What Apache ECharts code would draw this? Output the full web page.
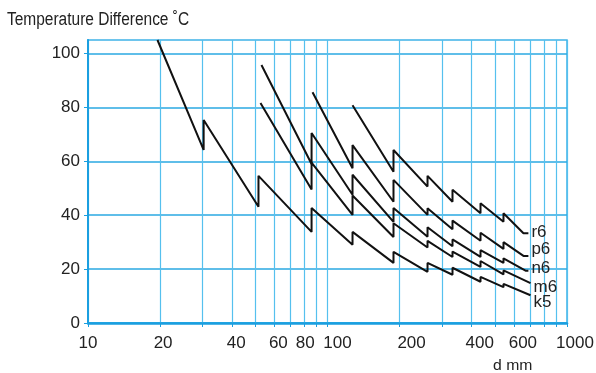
<!DOCTYPE html>
<html><head><meta charset="utf-8">
<script src="https://cdn.jsdelivr.net/npm/echarts@6/dist/echarts.min.js"></script>
<style>html,body{margin:0;padding:0;background:#fff}#c{width:596px;height:373px}</style>
</head><body><div id="c"></div>
<script>
// ---- data ----
const xGridValues = [10,20,30,40,50,60,70,80,90,100,200,300,400,500,600,700,800,900,1000];
const xLabelValues = [10,20,40,60,80,100,200,400,600,1000];
const yLabelValues = [0,20,40,60,80,100];
const gradeNames = ['k5','m6','n6','p6','r6'];

const k5 = [[19.5,105],[30.4,64.2],[30.4,75.3],[51.5,43.1],[51.5,54.6],[85.8,33.8],[85.8,42.7],[127.2,29.0],[127.2,33.8],[188.6,22.3],[188.6,26.4],[261.6,19.0],[261.6,22.3],[332.6,17.9],[332.6,20.5],[435.4,15.3],[435.4,17.1],[543,13.3],[543,14.5],[704,10.3]];
const m6 = [[52.5,81.6],[85.8,49.5],[85.8,59.5],[127.2,40.1],[127.2,47.3],[188.6,31.9],[188.6,37.0],[261.6,28.0],[261.6,30.5],[332.6,24.5],[332.6,26.5],[435.4,20.8],[435.4,23.0],[543,18.0],[543,19.5],[704,14.8]];
const n6 = [[53,95.7],[85.8,59.0],[85.8,70.5],[127.2,47.6],[127.2,55.0],[188.6,37.5],[188.6,42.7],[261.6,32.0],[261.6,35.5],[332.6,28.5],[332.6,31.0],[435.4,24.5],[435.4,27.0],[543,22.3],[543,24.0],[671,19.4],[690,19.4]];
const p6 = [[86.6,85.6],[127.2,57.4],[127.2,66.0],[188.6,45.0],[188.6,53.1],[261.6,40.1],[261.6,42.6],[332.6,34.8],[332.6,38.0],[435.4,30.5],[435.4,33.5],[543,27.5],[543,30.0],[658,24.9],[690,24.9]];
const r6 = [[127.2,80.8],[188.6,56.1],[188.6,64.2],[261.6,50.6],[261.6,54.6],[332.6,45.0],[332.6,49.4],[435.4,40.7],[435.4,44.4],[543,37.6],[543,40.7],[658,33.3],[690,33.3]];
const seriesData = [k5, m6, n6, p6, r6];
const yTitle = 'Temperature Difference \u02DAC';
const xTitle = 'd mm';

// ---- styles ----
const labelOffsets = {k5:[0,7], m6:[0,4], n6:[0,-2], p6:[0,-7], r6:[0,-1]};
const xLabelNudge = {10:0,20:3,40:4,60:4,80:1,100:10,200:12,400:8,600:9,1000:8};
const FONT = '"Liberation Sans", Arial, Helvetica, sans-serif';

const rich = {};
Object.keys(xLabelNudge).forEach(k => {
  rich['n' + k] = {padding:[0,0,0,2*xLabelNudge[k]], fontSize:17, fontFamily:FONT, color:'#222'};
});

const chart = echarts.init(document.getElementById('c'), null, {renderer:'canvas'});
chart.setOption({
  animation:false,
  backgroundColor:'#fff',
  graphic:[
    {type:'text', x:7, y:11, scaleX:0.86, style:{text:yTitle, fontSize:18, fontFamily:FONT, fill:'#222', textVerticalAlign:'top'}},
    {type:'text', x:493, y:358, scaleX:1.05, style:{text:xTitle, fontSize:15, fontFamily:FONT, fill:'#222', textVerticalAlign:'top'}}
  ],
  grid:{left:88, right:29, top:40, bottom:50, show:true, borderColor:'#3fb3e8', borderWidth:1.5, containLabel:false, outerBoundsMode:'none'},
  xAxis:{
    type:'log', logBase:10, min:10, max:1000,
    axisLine:{show:true, onZero:false, lineStyle:{color:'#1a9fe0', width:2.5}},
    axisTick:{show:true, customValues:xGridValues, length:4, lineStyle:{color:'#1a9fe0', width:1}},
    axisLabel:{customValues:xLabelValues, margin:12, color:'#222', fontSize:17, fontFamily:FONT,
      formatter: v => '{n' + v + '|' + v + '}', rich: rich},
    splitLine:{show:true, lineStyle:{color:'#55c0ee', width:1.2}},
    minorTick:{show:false}, minorSplitLine:{show:false}
  },
  yAxis:{
    type:'value', min:0, max:105,
    axisLine:{show:true, lineStyle:{color:'#1a9fe0', width:2}},
    axisTick:{show:true, customValues:yLabelValues, length:4, lineStyle:{color:'#1a9fe0'}},
    axisLabel:{customValues:yLabelValues, margin:8, color:'#222', fontSize:17, fontFamily:FONT},
    splitLine:{show:true, lineStyle:{color:'#2aa8e2', width:1.5}}
  },
  series: gradeNames.map((name, i) => ({
    name: name, type:'line', data: seriesData[i], showSymbol:false, symbol:'none', clip:true,
    lineStyle:{color:'#111', width:2},
    endLabel:{show:true, formatter:'{a}', distance:3, offset:labelOffsets[name], color:'#222', fontSize:17, fontFamily:FONT}
  }))
});
</script>
</body></html>
